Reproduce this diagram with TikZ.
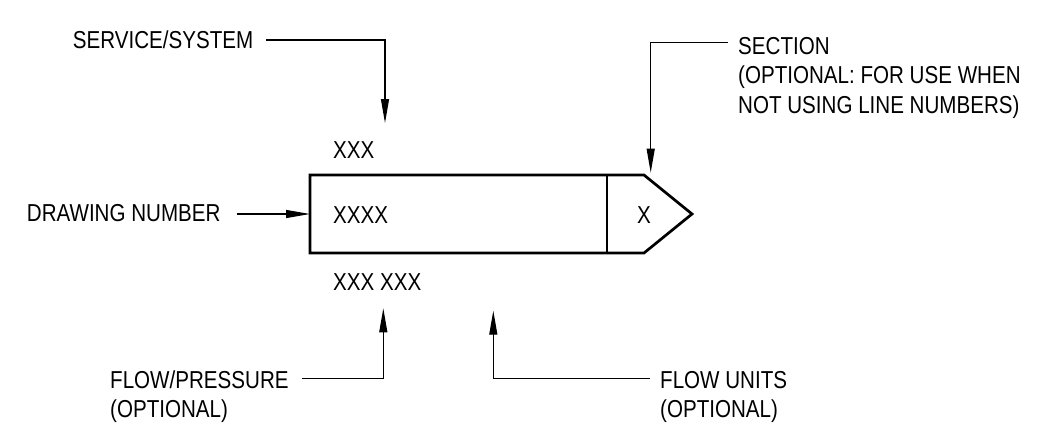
\documentclass[tikz,border=0pt]{standalone}
\usepackage{fontspec}
\setmainfont{Liberation Sans}[FakeStretch=0.84]
\usetikzlibrary{arrows.meta}
\begin{document}
\begin{tikzpicture}[x=1pt,y=-1pt,
  lbl/.style={inner sep=0pt, anchor=base west, font=\fontsize{24.5}{29.5}\selectfont},
  lead/.style={line width=1.2pt, -{Triangle[length=24pt,width=8pt]}},
  boxline/.style={line width=2.7pt, line join=miter}]
\useasboundingbox (0,0) rectangle (1041,429);
% main line-designation box
\draw[boxline] (310,175) -- (644,175) -- (692,214) -- (644,253) -- (310,253) -- cycle;
\draw[boxline] (607,175) -- (607,253);
\coordinate (boxL) at (310,214);
% text inside / around the box
\node[lbl] (t1) at (333,158) {XXX};
\node[lbl] (t2) at (333,223) {XXXX};
\node[lbl] (t3) at (333,290) {XXX XXX};
\node[lbl, anchor=base] (t4) at (644,223) {X};
% labels
\node[lbl] (svc) at (72.7,48.3) {SERVICE/SYSTEM};
\node[lbl] (sec) at (738,54) {\vtop{\hbox{SECTION}\hbox{(OPTIONAL: FOR USE WHEN}\hbox{NOT USING LINE NUMBERS)}}};
\node[lbl] (dwg) at (26.7,221.7) {DRAWING NUMBER};
\node[lbl] (fp) at (110,388.3) {\vtop{\hbox{FLOW/PRESSURE}\hbox{(OPTIONAL)}}};
\node[lbl] (fu) at (660,388.3) {\vtop{\hbox{FLOW UNITS}\hbox{(OPTIONAL)}}};
% arrow tips
\coordinate (svcTip) at (385,123);
\coordinate (secTip) at (650.7,172.7);
\coordinate (fpTip) at (383.3,308.3);
\coordinate (fuTip) at (493.3,310.7);
% leaders
\draw[lead] ([xshift=13pt,yshift=8.3pt]svc.base east) -| (svcTip);
\draw[lead] ([xshift=-10pt,yshift=11.3pt]sec.base west) -| (secTip);
\draw[lead] ([xshift=16pt,yshift=7.7pt]dwg.base east) -- (boxL);
\draw[lead] ([xshift=13pt,yshift=10pt]fp.base east) -| (fpTip);
\draw[lead] ([xshift=-10pt,yshift=10pt]fu.base west) -| (fuTip);
\end{tikzpicture}
\end{document}
